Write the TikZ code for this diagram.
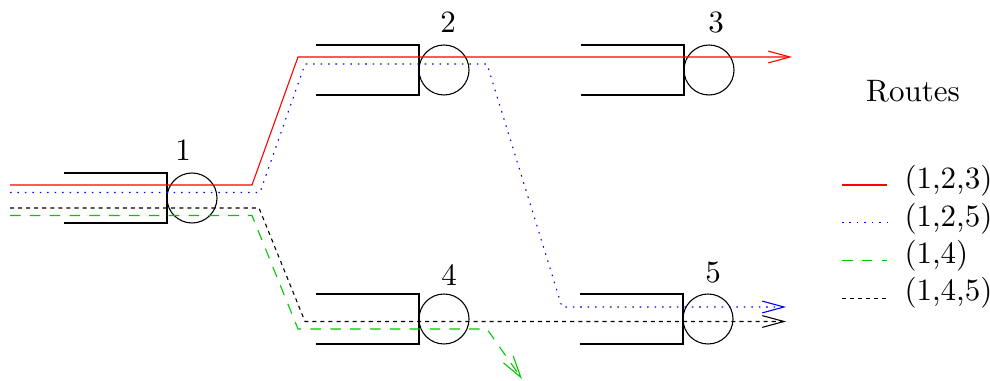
\documentclass[tikz,border=0pt]{standalone}
\usepackage{tikz}
\usetikzlibrary{arrows.meta}

\definecolor{routegreen}{RGB}{0,200,0}
\tikzset{
	tip/.style={-{Straight Barb[length=7pt, width=3.8pt]}},
	rA/.style={red},
	rB/.style={blue, dash pattern=on 0.5pt off 1.9pt},
	rC/.style={routegreen, dash pattern=on 3.4pt off 3pt},
	rD/.style={black, dash pattern=on 1.3pt off 1.3pt},
}

\begin{document}
\begin{tikzpicture}[x=0.3226pt, y=-0.3226pt, line width=0.35pt]
	\useasboundingbox (0, 0) rectangle (990, 381);
	% queues: open box and server
	\foreach \q/\x/\y in {1/167/198, 2/419/70, 3/684/70, 4/419/319, 5/683/319} {
		\draw (\x - 103, \y - 25) -- (\x, \y - 25) -- (\x, \y + 25) -- (\x - 103, \y + 25);
		\coordinate (srv\q) at (\x + 25, \y);
		\draw (srv\q) circle [radius=25];
	}
	\foreach \q/\x/\y in {1/183/150, 2/448/22, 3/716/23, 4/449/275, 5/713/273} {
		\node [inner sep=0] (lab\q) at (\x, \y) {\q};
	}
	% routes
	\draw [rA, tip] (10, 185) -- (252, 185) -- (298, 57) -- (792, 57);
	\draw [rB, tip] (10, 192.5) -- (260, 192.5) -- (305, 64) -- (487, 64) -- (562, 307) -- (786, 307);
	\draw [rD, tip] (10, 208) -- (259, 208) -- (305, 321.5) -- (786, 321.5);
	\draw [rC, tip] (10, 215.5) -- (252, 215.5) -- (298, 329) -- (487, 329) -- (522, 379);
	% legend
	\node [anchor=base] (title) at (913, 102) {Routes};
	\foreach \i/\r/\sty in {0/{(1,2,3)}/rA, 1/{(1,2,5)}/rB, 2/{(1,4)}/rC, 3/{(1,4,5)}/rD} {
		\draw [\sty] (842, 185 + 37.7*\i) -- (887, 185 + 37.7*\i);
		\node [anchor=base west, inner sep=0] (key\i) at (904, 189 + 37.2*\i) {\r};
	}
\end{tikzpicture}
\end{document}
